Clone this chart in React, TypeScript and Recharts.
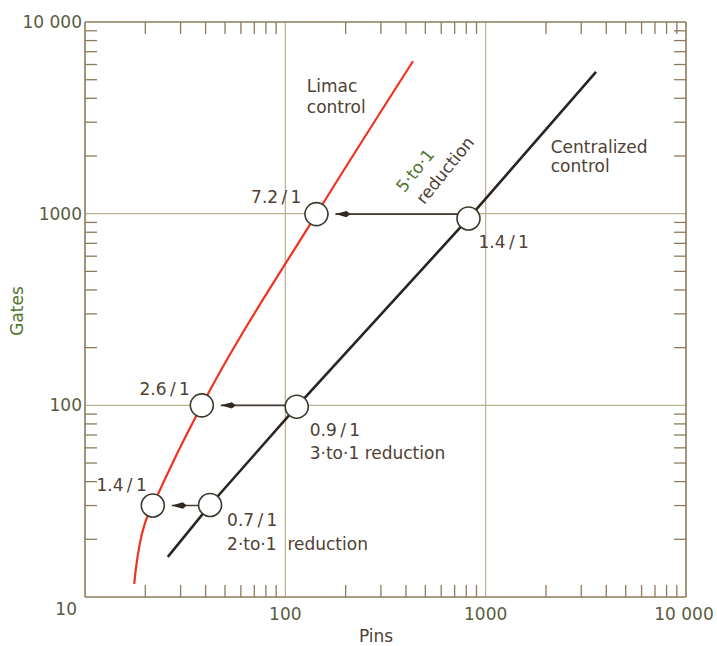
import { ComposedChart, Line, Scatter, XAxis, YAxis, CartesianGrid, ReferenceDot } from 'recharts';

// log axis ticks (1..9 per decade)
const axisTicks = [
  10, 20, 30, 40, 50, 60, 70, 80, 90,
  100, 200, 300, 400, 500, 600, 700, 800, 900,
  1000, 2000, 3000, 4000, 5000, 6000, 7000, 8000, 9000,
  10000,
];
const majorTicks = [10, 100, 1000, 10000];
const majorLabels = ['10', '100', '1000', '10 000'];

// Limac control curve
const limacPins = [17.6, 18.0, 18.8, 19.9, 21.8, 28.1, 38.3, 143, 434];
const limacGates = [11.7, 14.4, 19.1, 24.2, 30, 53, 100, 995, 6250];

// Centralized control curve
const centralPins = [25.9, 42.1, 114, 821, 3556];
const centralGates = [16.2, 30.2, 98.4, 944, 5486];

// marked points
const limacMarkPins = [21.8, 38.3, 143];
const limacMarkGates = [30, 100, 995];
const limacMarkLabels = [['1.4\u2009/\u20091'], ['2.6\u2009/\u20091'], ['7.2\u2009/\u20091']];

const centralMarkPins = [42.1, 114, 821];
const centralMarkGates = [30.2, 98.4, 944];
const centralMarkLabels = [
  ['0.7\u2009/\u20091', '2\u00b7to\u00b71\u00a0 reduction'],
  ['0.9\u2009/\u20091', '3\u00b7to\u00b71 reduction'],
  ['1.4\u2009/\u20091'],
];

const FONT = '"DejaVu Sans", sans-serif';
const FRAME = '#8c7a5c';
const GRID = '#bcae90';
const TICK_TEXT = '#5a5b3c';
const NOTE = '#4f4034';
const GREEN = '#4f742e';
const TICK_LEN = 12;

const limacLabelPos = [
  { dx: -6, dy: -21 },
  { dx: -12, dy: -16 },
  { dx: -15, dy: -17 },
];
const centralLabelPos = [
  { dx: 17, dy: 15, lh: 24 },
  { dx: 13, dy: 23, lh: 23 },
  { dx: 10, dy: 24, lh: 23 },
];

const limacCurve = limacPins.map((p, i) => ({ pins: p, gates: limacGates[i] }));
const centralCurve = centralPins.map((p, i) => ({ pins: p, gates: centralGates[i] }));

const limacMarks = limacMarkPins.map((p, i) => ({
  pins: p, gates: limacMarkGates[i], lines: limacMarkLabels[i], ...limacLabelPos[i], anchor: 'end', lh: 20,
}));
const centralMarks = centralMarkPins.map((p, i) => ({
  pins: p, gates: centralMarkGates[i], lines: centralMarkLabels[i], ...centralLabelPos[i], anchor: 'start',
}));

// arrows go from the centralized point across to the Limac point
const arrows = limacMarkPins.map((p, i) => [
  { pins: centralMarkPins[i], gates: limacMarkGates[i] },
  { pins: p, gates: limacMarkGates[i] },
]);

function BottomTick({ x, y, payload }: any) {
  const i = majorTicks.indexOf(payload.value);
  return (
    <g>
      {i < 0 && <line x1={x} y1={y} x2={x} y2={y - TICK_LEN} stroke={FRAME} strokeWidth={1.3} />}
      {i > 0 && (
        <text x={i === 3 ? x - 2 : x} y={y + 17} textAnchor="middle" dominantBaseline="central"
          fontFamily={FONT} fontSize={17} fill={TICK_TEXT}>
          {majorLabels[i]}
        </text>
      )}
    </g>
  );
}

function TopTick({ x, y, payload }: any) {
  if (majorTicks.includes(payload.value)) return <g />;
  return <line x1={x} y1={y} x2={x} y2={y + TICK_LEN} stroke={FRAME} strokeWidth={1.3} />;
}

function LeftTick({ x, y, payload }: any) {
  const i = majorTicks.indexOf(payload.value);
  if (i < 0) return <line x1={x} y1={y} x2={x + TICK_LEN} y2={y} stroke={FRAME} strokeWidth={1.3} />;
  return (
    <text x={i === 0 ? x - 8 : x - 3} y={i === 0 ? y + 12 : y} textAnchor="end" dominantBaseline="central"
      fontFamily={FONT} fontSize={17} fill={TICK_TEXT}>
      {majorLabels[i]}
    </text>
  );
}

function RightTick({ x, y, payload }: any) {
  if (majorTicks.includes(payload.value)) return <g />;
  return <line x1={x} y1={y} x2={x - TICK_LEN} y2={y} stroke={FRAME} strokeWidth={1.3} />;
}

function GatesLabel({ viewBox }: any) {
  if (!viewBox) return null;
  const cx = viewBox.x + 9;
  const cy = viewBox.y + 289;
  return (
    <g transform={`translate(${cx}, ${cy}) rotate(-90)`}>
      <text x={0} y={0} textAnchor="middle" dominantBaseline="central"
        fontFamily={FONT} fontSize={17} fill={GREEN}>
        Gates
      </text>
    </g>
  );
}

function PinsLabel({ viewBox }: any) {
  if (!viewBox) return null;
  return (
    <text x={viewBox.x + 291} y={viewBox.y + 45} textAnchor="middle"
      fontFamily={FONT} fontSize={17} fill={NOTE}>
      Pins
    </text>
  );
}

function Marker({ cx, cy, payload }: any) {
  const { lines, dx, dy, anchor, lh } = payload;
  return (
    <g>
      <circle cx={cx} cy={cy} r={11.5} fill="#ffffff" stroke="#3c3a2c" strokeWidth={1.6} />
      {lines.map((t: string, k: number) => (
        <text key={k} x={cx + dx} y={cy + dy + k * lh} textAnchor={anchor} dominantBaseline="central"
          fontFamily={FONT} fontSize={17} fill={NOTE}>
          {t}
        </text>
      ))}
    </g>
  );
}

function ArrowHead({ cx, cy }: any) {
  const t = cx + 19;
  return (
    <g>
      <line x1={cx + 12} y1={cy} x2={t} y2={cy} stroke="#ffffff" strokeWidth={3} />
      <polygon points={`${t},${cy} ${t + 11},${cy - 3.2} ${t + 15},${cy} ${t + 11},${cy + 3.2}`} fill="#2e2a22" />
    </g>
  );
}

function Note({ cx, cy, lines, colors, lh, rotate }: any) {
  return (
    <g transform={rotate ? `rotate(${rotate}, ${cx}, ${cy})` : undefined}>
      {lines.map((t: string, k: number) => (
        <text key={k} x={cx + (rotate ? k * 3.5 : 0)} y={cy + k * lh} fontFamily={FONT} fontSize={17}
          fill={colors[k]}>
          {t}
        </text>
      ))}
    </g>
  );
}

export default function App() {
  return (
    <div style={{ width: 709, height: 638, padding: '8px 0 0 8px', overflow: 'hidden' }}>
      <style>{'body { margin: 0; overflow: hidden; }'}</style>
      <ComposedChart width={709} height={638} margin={{ top: 0, right: 0, bottom: 0, left: 0 }}>
        <CartesianGrid stroke={GRID} strokeWidth={1.2} horizontalValues={[100, 1000]} verticalValues={[100, 1000]} />
        <XAxis xAxisId={0} dataKey="pins" type="number" scale="log" domain={[10, 10000]} allowDataOverflow
          ticks={axisTicks} interval={0} height={49} tickSize={0} tickMargin={0} tickLine={false}
          axisLine={{ stroke: FRAME, strokeWidth: 1.6 }} tick={BottomTick} label={PinsLabel} />
        <XAxis xAxisId="top" orientation="top" dataKey="pins" type="number" scale="log" domain={[10, 10000]}
          allowDataOverflow ticks={axisTicks} interval={0} height={14} tickSize={0} tickMargin={0} tickLine={false}
          axisLine={{ stroke: FRAME, strokeWidth: 1.6 }} tick={TopTick} />
        <YAxis yAxisId={0} dataKey="gates" type="number" scale="log" domain={[10, 10000]} allowDataOverflow
          ticks={axisTicks} interval={0} width={77} tickSize={0} tickMargin={0} tickLine={false}
          axisLine={{ stroke: FRAME, strokeWidth: 1.6 }} tick={LeftTick} label={GatesLabel} />
        <YAxis yAxisId="right" orientation="right" dataKey="gates" type="number" scale="log" domain={[10, 10000]}
          allowDataOverflow ticks={axisTicks} interval={0} width={31} tickSize={0} tickMargin={0} tickLine={false}
          axisLine={{ stroke: FRAME, strokeWidth: 1.6 }} tick={RightTick} />

        {arrows.map((a, i) => (
          <Line key={i} data={a} dataKey="gates" type="linear" stroke="#4b3b3b" strokeWidth={1.6}
            dot={false} activeDot={false} isAnimationActive={false} />
        ))}
        <Line data={limacCurve} dataKey="gates" type="monotone" stroke="#f0321e" strokeWidth={2.2}
          dot={false} activeDot={false} isAnimationActive={false} />
        <Line data={centralCurve} dataKey="gates" type="linear" stroke="#2b2522" strokeWidth={2.6}
          dot={false} activeDot={false} isAnimationActive={false} />
        <Scatter data={limacMarks} dataKey="gates" shape={ArrowHead} isAnimationActive={false} />
        <Scatter data={limacMarks} dataKey="gates" shape={Marker} isAnimationActive={false} />
        <Scatter data={centralMarks} dataKey="gates" shape={Marker} isAnimationActive={false} />

        <ReferenceDot x={128} y={4305} r={0} ifOverflow="visible"
          shape={(p: any) => <Note cx={p.cx} cy={p.cy} lines={['Limac', 'control']} colors={[NOTE, NOTE]} lh={21} />} />
        <ReferenceDot x={2113} y={2064} r={0} ifOverflow="visible"
          shape={(p: any) => <Note cx={p.cx} cy={p.cy} lines={['Centralized', 'control']} colors={[NOTE, NOTE]} lh={18.5} />} />
        <ReferenceDot x={392} y={1276} r={0} ifOverflow="visible"
          shape={(p: any) => (
            <Note cx={p.cx} cy={p.cy} lines={['5\u00b7to\u00b71', 'reduction']} colors={[GREEN, NOTE]} lh={23} rotate={-51} />
          )} />
      </ComposedChart>
    </div>
  );
}
